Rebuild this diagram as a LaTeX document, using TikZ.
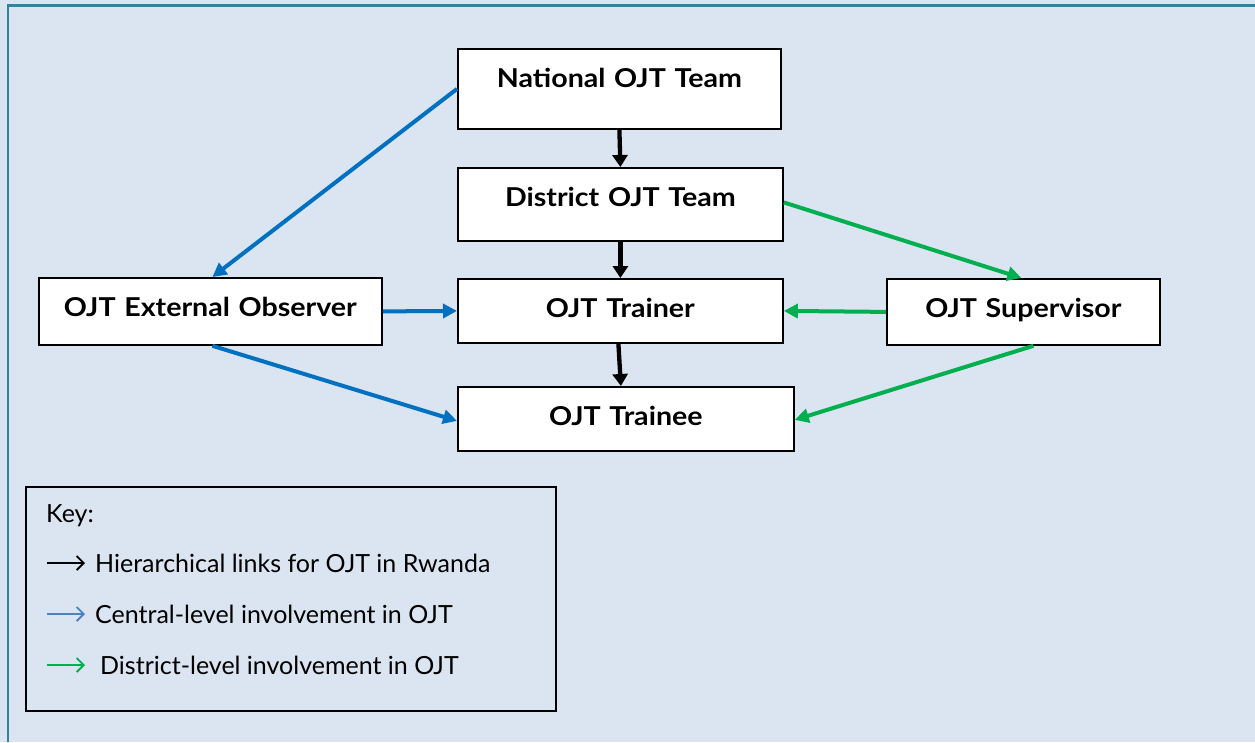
\documentclass[tikz,border=0pt]{standalone}
\usepackage{fontspec}
\setmainfont{Lato}
\newfontfamily\boxfont[FakeStretch=1.1]{Lato Bold}
\usetikzlibrary{arrows.meta}
\definecolor{bgblue}{HTML}{DBE5F1}
\definecolor{frameteal}{HTML}{31849B}
\definecolor{arrblue}{HTML}{0070C0}
\definecolor{arrgreen}{HTML}{00B050}
\definecolor{keyblue}{HTML}{4F81BD}
\tikzset{
  box/.style={draw=black, line width=1.8pt, fill=white, anchor=north west, inner sep=0pt,
    align=center, text height=39pt, font=\boxfont\fontsize{26}{30}\selectfont},
  hier/.style={line width=4.3pt, draw=black, -{Triangle[length=12pt,width=15pt]}},
  central/.style={line width=4pt, draw=arrblue, -{Triangle[length=14pt,width=14pt]}},
  district/.style={line width=4pt, draw=arrgreen, -{Triangle[length=14pt,width=14pt]}},
  keyarrow/.style={line width=1.8pt, -{Straight Barb[length=7pt,width=14pt]}},
  keytext/.style={anchor=base west, inner sep=0pt, font=\fontsize{25}{29}\selectfont}
}
\begin{document}
\begin{tikzpicture}[x=1pt, y=-1pt]
\useasboundingbox (0,0) rectangle (1255,742);
\fill[bgblue] (0,0) rectangle (1255,742);
\draw[frameteal, line width=2.5pt] (8,742) -- (8,5.5) -- (1255,5.5);

\node[box, text width=323pt, text depth=41pt] (nat) at (457,48) {National OJT Team};
\node[box, text width=325pt, text depth=34pt] (dist) at (457,167) {District OJT Team};
\node[box, text width=325pt, text depth=25pt] (trainer) at (457,278) {OJT Trainer};
\node[box, text width=336pt, text depth=25pt] (trainee) at (457,386) {OJT Trainee};
\node[box, text width=343pt, text depth=28pt] (obs) at (38,277) {OJT External Observer};
\node[box, text width=273pt, text depth=27pt] (sup) at (886,278) {OJT Supervisor};

\draw[hier] (nat.south) -- (dist.north);
\draw[hier] (dist.south) -- (trainer.north);
\draw[hier] ([xshift=-2pt]trainer.south) -- ([xshift=-5pt]trainee.north);

\draw[central] (nat.west) -- ([xshift=2pt]obs.north);
\draw[central] (obs.east) -- (trainer.west);
\draw[central] ([xshift=2pt]obs.south) -- ([yshift=-2pt]trainee.west);

\draw[district] ([yshift=2pt]dist.east) -- ([xshift=-2pt]sup.north);
\draw[district] (sup.west) -- (trainer.east);
\draw[district] ([xshift=10pt]sup.south) -- ([yshift=-1pt]trainee.east);

\node[draw=black, line width=1.8pt, fill=bgblue, anchor=north west, minimum width=530pt,
  minimum height=224pt, inner sep=0pt] (key) at (25,486) {};
\node[keytext] (keylbl) at (46,522) {Key:};
\coordinate (k1a) at (47,563); \coordinate (k1b) at (85,563);
\coordinate (k2a) at (47,614); \coordinate (k2b) at (85,614);
\coordinate (k3a) at (47,665); \coordinate (k3b) at (85,665);
\draw[keyarrow, black] (k1a) -- (k1b);
\draw[keyarrow, keyblue] (k2a) -- (k2b);
\draw[keyarrow, arrgreen] (k3a) -- (k3b);
\node[keytext] (t1) at (95,572) {Hierarchical links for OJT in Rwanda};
\node[keytext] (t2) at (95,623) {Central-level involvement in OJT};
\node[keytext] (t3) at (100,674) {District-level involvement in OJT};
\end{tikzpicture}
\end{document}
